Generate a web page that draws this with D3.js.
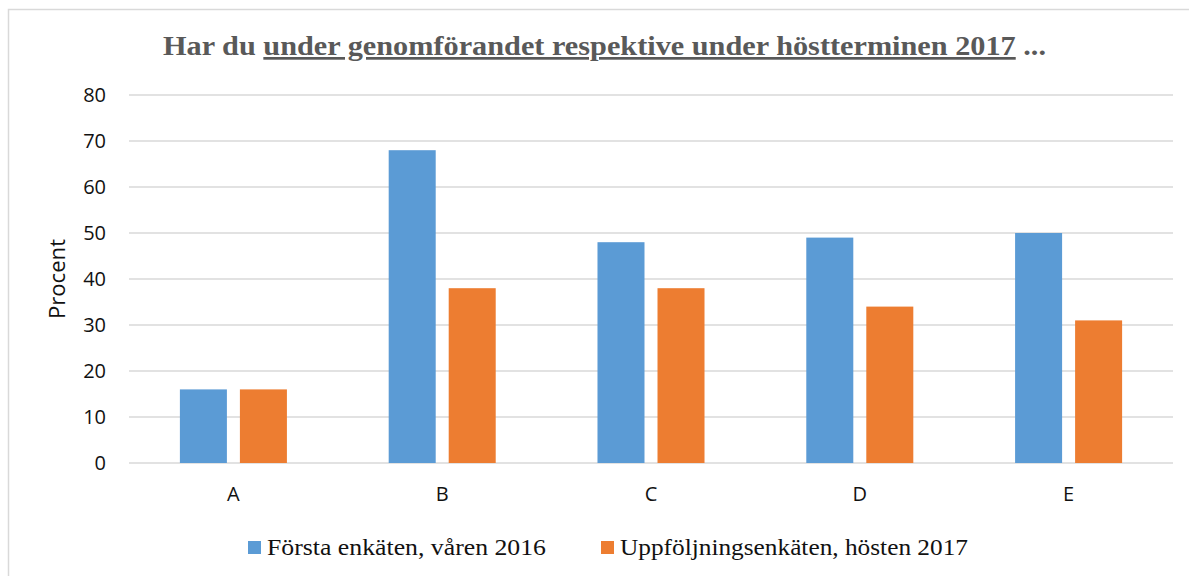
<!DOCTYPE html>
<html><head><meta charset="utf-8">
<script src="https://cdn.jsdelivr.net/npm/d3@7"></script>
<style>
html,body{margin:0;padding:0;background:#fff;}
svg{display:block;}
</style></head>
<body>
<svg id="chart" width="1189" height="576"></svg>
<script>
const categories = ["A", "B", "C", "D", "E"];
const seriesNames = ["Första enkäten, våren 2016", "Uppföljningsenkäten, hösten 2017"];
const firstSurvey = [16, 68, 48, 49, 50];
const followUp = [16, 38, 38, 34, 31];
const yTicks = [0, 10, 20, 30, 40, 50, 60, 70, 80];
const titlePre = "Har du ";
const titleUnderlined = "under genomförandet respektive under höstterminen 2017";
const titlePost = " ...";
const yLabel = "Procent";

const colors = ["#5B9BD5", "#ED7D31"];
const series = [firstSurvey, followUp];

const svg = d3.select("#chart");
const m = {left: 129, right: 1173, top: 95, bottom: 463};
const sans = "'Open Sans', 'Liberation Sans', sans-serif";

// frame
svg.append("rect").attr("x", 8.5).attr("y", 9.5).attr("width", 1200).attr("height", 600)
  .attr("fill", "#fff").attr("stroke", "#d9d9d9").attr("stroke-width", 1.5);

const x0 = d3.scaleBand().domain(categories).range([m.left, m.right]).padding(0);
const x1 = d3.scaleBand().domain([0, 1]).range([0, x0.bandwidth()])
  .paddingInner(0.2167).paddingOuter(0.848);
const y = d3.scaleLinear().domain([0, 80]).range([m.bottom, m.top]);

// gridlines
svg.append("g").selectAll("line").data(yTicks).join("line")
  .attr("x1", m.left).attr("x2", m.right)
  .attr("y1", d => y(d)).attr("y2", d => y(d))
  .attr("stroke", "#d9d9d9").attr("stroke-width", 1.5);

// y axis
const yAxis = d3.axisLeft(y).tickValues(yTicks).tickSize(0).tickPadding(23);
const gy = svg.append("g").attr("transform", `translate(${m.left},0)`).call(yAxis);
gy.select(".domain").remove();
gy.selectAll("text").attr("font-family", sans).attr("font-size", 20).attr("fill", "#111");

// bars
const groups = svg.append("g").selectAll("g").data(categories).join("g")
  .attr("transform", d => `translate(${x0(d)},0)`);
groups.selectAll("rect").data((d, i) => series.map((s, k) => ({k, v: s[i]}))).join("rect")
  .attr("x", d => x1(d.k)).attr("width", x1.bandwidth())
  .attr("y", d => y(d.v)).attr("height", d => y(0) - y(d.v))
  .attr("fill", d => colors[d.k]);

// x axis
const xAxis = d3.axisBottom(x0).tickSize(0).tickPadding(24);
const gx = svg.append("g").attr("transform", `translate(0,${m.bottom})`).call(xAxis);
gx.select(".domain").remove();
gx.selectAll("text").attr("font-family", sans).attr("font-size", 20).attr("fill", "#111");

// y label
svg.append("text").attr("transform", "translate(65,279) rotate(-90)")
  .attr("text-anchor", "middle")
  .attr("font-family", sans).attr("font-size", 22).attr("fill", "#111")
  .attr("textLength", 80).attr("lengthAdjust", "spacingAndGlyphs")
  .text(yLabel);

// title
const title = svg.append("text").attr("x", 163).attr("y", 55)
  .attr("font-family", "'Liberation Serif', serif").attr("font-weight", "bold")
  .attr("font-size", 27).attr("fill", "#595959")
  .attr("textLength", 883).attr("lengthAdjust", "spacingAndGlyphs");
title.append("tspan").text(titlePre);
title.append("tspan").attr("text-decoration", "underline").text(titleUnderlined);
title.append("tspan").text(titlePost);

// legend
const legX = [248, 601];
const legTextW = [279, 348];
const leg = svg.append("g").selectAll("g").data(seriesNames).join("g");
leg.append("rect").attr("x", (d, i) => legX[i]).attr("y", 541).attr("width", 13).attr("height", 13)
  .attr("fill", (d, i) => colors[i]);
leg.append("text").attr("x", (d, i) => legX[i] + 19).attr("y", 555)
  .attr("font-family", "'Liberation Serif', serif").attr("font-size", 23).attr("fill", "#111")
  .attr("textLength", (d, i) => legTextW[i]).attr("lengthAdjust", "spacingAndGlyphs")
  .text(d => d);
</script>
</body></html>
